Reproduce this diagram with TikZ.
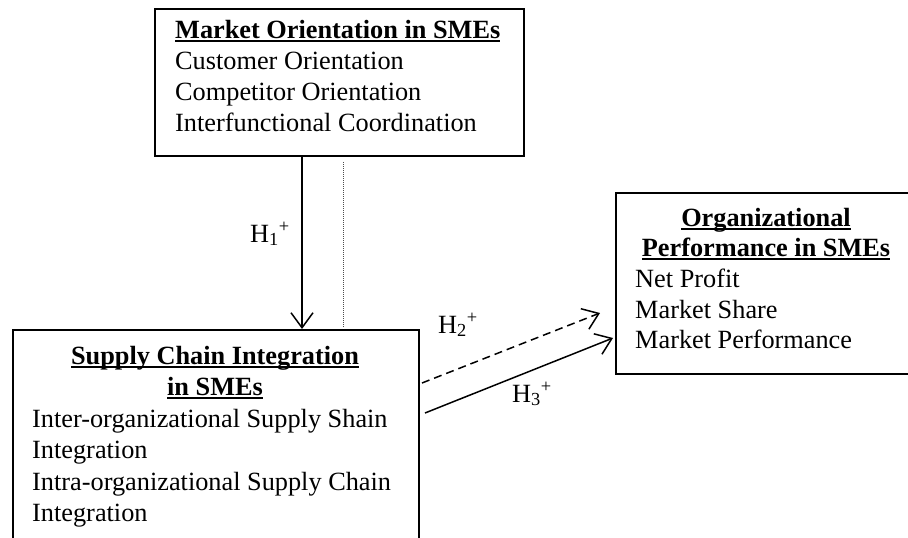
\documentclass[tikz,border=0pt]{standalone}
\usepackage{fontspec}
\setmainfont{Liberation Serif}
\usetikzlibrary{arrows.meta}
\newcommand\fs{\fontsize{26.3}{31}\selectfont}
\newcommand\myul[1]{\setbox0\hbox{#1}\rlap{\rule[-4pt]{\wd0}{1.6pt}}\box0}
\tikzset{
  box/.style={draw, line width=1.6pt, inner sep=0, anchor=north west},
  txt/.style={inner sep=0, anchor=base west, font=\fs},
  ttl/.style={inner sep=0, anchor=base, font=\fs\bfseries},
  lbl/.style={inner sep=0, anchor=base west, font=\fs},
  conn/.style={line width=1.5pt, -{Straight Barb[length=15pt,width=22pt,line width=1.5pt]}},
  dconn/.style={conn, dash pattern=on 8pt off 5pt},
  dots/.style={line width=0.8pt, draw=black!70, dash pattern=on 1pt off 1pt},
}
\begin{document}
\begin{tikzpicture}[x=1pt,y=-1pt]
\useasboundingbox (0,0) rectangle (908,538);
\clip (0,0) rectangle (908,538);
% boxes
\node[box, minimum width=369pt, minimum height=147pt] (mo) at (154,8) {};
\node[box, minimum width=406pt, minimum height=220pt] (sc) at (12,329) {};
\node[box, minimum width=302pt, minimum height=181pt] (op) at (615,192) {};
% top box text
\node[txt, font=\fs\bfseries] (mot) at (175,38) {\myul{Market Orientation in SMEs}};
\node[txt] (mo1) at (175,69) {Customer Orientation};
\node[txt] (mo2) at (175,100) {Competitor Orientation};
\node[txt] (mo3) at (175,131) {Interfunctional Coordination};
% bottom box text
\node[ttl] (sct1) at (215,364) {\myul{Supply Chain Integration}};
\node[ttl] (sct2) at (215,395) {\myul{in SMEs}};
\node[txt] (sc1) at (32,427) {Inter-organizational Supply Shain};
\node[txt] (sc2) at (32,458) {Integration};
\node[txt] (sc3) at (32,490) {Intra-organizational Supply Chain};
\node[txt] (sc4) at (32,521) {Integration};
% right box text
\node[ttl] (opt1) at (766,226) {\myul{Organizational}};
\node[ttl] (opt2) at (766,256) {\myul{Performance in SMEs}};
\node[txt] (op1) at (635,287) {Net Profit};
\node[txt] (op2) at (635,318) {Market Share};
\node[txt] (op3) at (635,348) {Market Performance};
% connectors
\coordinate (h1x) at (302,0);
\draw[conn] (mo.south -| h1x) -- (sc.north -| h1x);
\coordinate (dA) at (343,162);
\coordinate (dB) at (343,327);
\draw[dots] (dA) -- (dB);
\coordinate (h2s) at (422,383);
\coordinate (h2e) at (600,313);
\draw[dconn] (h2s) -- (h2e);
\coordinate (h3s) at (425,413);
\coordinate (h3e) at (613,338);
\draw[conn] (h3s) -- (h3e);
% labels
\node[lbl] (l1) at (250,242) {H\textsubscript{1}\textsuperscript{+}};
\node[lbl] (l2) at (438,333) {H\textsubscript{2}\textsuperscript{+}};
\node[lbl] (l3) at (512,402) {H\textsubscript{3}\textsuperscript{+}};
\end{tikzpicture}
\end{document}
